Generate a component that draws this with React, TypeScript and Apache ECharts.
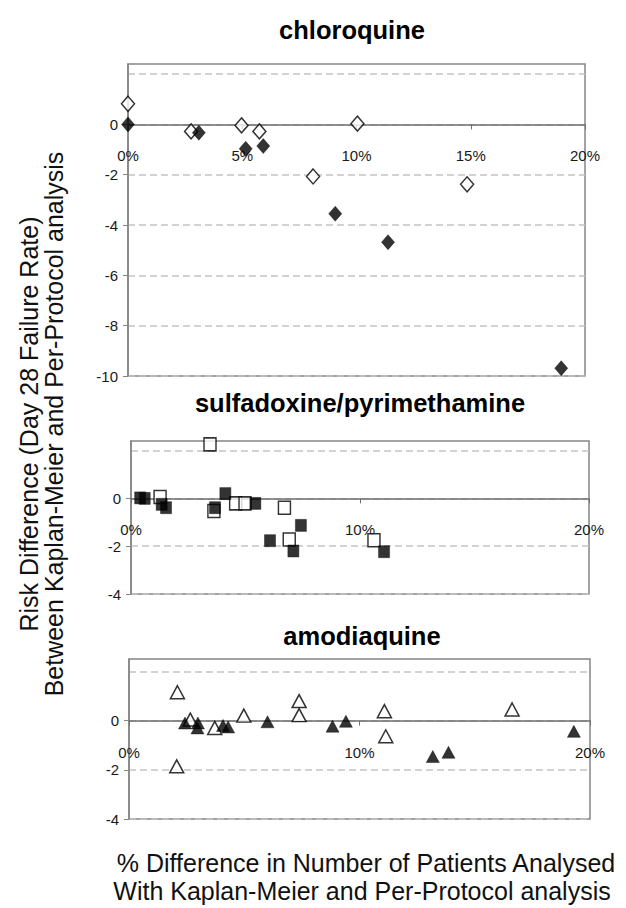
import React, { useEffect, useRef } from "react";
import * as echarts from "echarts";

// ---- data: [% difference in patients analysed, risk difference] ----
const chloroquineOpen = [
  [0, 0.82], [2.76, -0.28], [4.97, -0.04], [5.75, -0.28], [8.1, -2.07], [10.04, 0.03], [14.84, -2.38],
];
const chloroquineFilled = [
  [0, 0], [3.1, -0.33], [5.15, -0.97], [5.92, -0.86], [9.07, -3.55], [11.38, -4.68], [18.96, -9.69],
];
const spOpen = [
  [1.27, 0.06], [3.45, 2.26], [3.62, -0.53], [4.57, -0.21], [4.98, -0.21], [6.7, -0.39], [6.91, -1.72], [10.61, -1.75],
];
const spFilled = [
  [0.4, 0.02], [0.6, 0.0], [1.34, -0.25], [1.53, -0.39], [3.67, -0.39], [4.12, 0.2], [5.43, -0.21],
  [6.07, -1.77], [7.09, -2.2], [7.42, -1.13], [11.05, -2.23],
];
const amodiaquineOpen = [
  [2.1, 1.15], [2.07, -1.86], [2.66, 0.04], [3.72, -0.3], [4.98, 0.2], [7.38, 0.79], [7.38, 0.22],
  [11.08, 0.38], [11.14, -0.64], [16.62, 0.45],
];
const amodiaquineFilled = [
  [2.43, -0.1], [2.99, -0.1], [2.97, -0.3], [4.08, -0.2], [4.3, -0.26], [6.01, -0.05], [8.83, -0.23],
  [9.41, -0.03], [13.18, -1.46], [13.86, -1.29], [19.3, -0.44],
];

const panelTitles = ["chloroquine", "sulfadoxine/pyrimethamine", "amodiaquine"];
const yTitleLines = ["Risk Difference (Day 28 Failure Rate)", "Between Kaplan-Meier and Per-Protocol analysis"];
const xTitleLines = ["% Difference in Number of Patients Analysed", "With Kaplan-Meier and Per-Protocol analysis"];
const yTicks1 = [-10, -8, -6, -4, -2, 0, 2];
const yTicks23 = [-4, -2, 0, 2];
const yRanges = [
  [-10, 2.4],
  [-4, 2.4],
  [-4, 2.5],
];
const xIntervals = [5, 10, 10];

const FONT = '"Liberation Sans", Arial, Helvetica, sans-serif';

export default function App() {
  const ref = useRef<HTMLDivElement>(null);
  useEffect(() => {
    if (!ref.current) return;
    const chart = echarts.init(ref.current, undefined, { renderer: "svg" });

    const gridBoxes = [
      { left: 128, top: 64, width: 457, height: 312 },
      { left: 131, top: 441, width: 458, height: 153 },
      { left: 129, top: 659, width: 461, height: 160 },
    ];
    const grids = gridBoxes.map((g) => ({
      ...g,
      show: true,
      borderColor: "#858585",
      borderWidth: 1.5,
      backgroundColor: "transparent",
    }));

    // x axis sits at y = 0 (line, ticks and labels), placed via offset from the bottom
    const xAxisBase = (i: number) => {
      const [mn, mx] = yRanges[i];
      const zeroOffset = -((0 - mn) / (mx - mn)) * gridBoxes[i].height;
      return {
        type: "value",
        gridIndex: i,
        min: 0,
        max: 20,
        interval: xIntervals[i],
        position: "bottom",
        offset: zeroOffset,
        z: 5,
        axisLine: { show: true, onZero: false, lineStyle: { color: "#6e6e6e", width: 1.5 } },
        axisTick: { show: true, length: 5, lineStyle: { color: "#6e6e6e", width: 1 } },
        axisLabel: {
          margin: 24,
          fontSize: 15,
          fontFamily: FONT,
          color: "#1a1a1a",
          formatter: (v: number) => v + "%",
        },
        splitLine: { show: false },
      };
    };

    const yAxisBase = (i: number, ticks: number[]) => ({
      type: "value",
      gridIndex: i,
      min: yRanges[i][0],
      max: yRanges[i][1],
      interval: 2,
      axisLine: { show: true, onZero: false, lineStyle: { color: "#858585", width: 1.5 } },
      axisTick: { show: true, length: 5, customValues: ticks, lineStyle: { color: "#858585" } },
      axisLabel: {
        margin: 10,
        fontSize: 15,
        fontFamily: FONT,
        color: "#1a1a1a",
        customValues: ticks,
        showMaxLabel: false,
      },
      splitLine: { show: true, lineStyle: { color: "#c4c4c4", width: 1.5, type: [7, 4] } },
    });

    const openStyle = { color: "#ffffff", borderColor: "#000000", borderWidth: 1.5 };
    const filledStyle = { color: "#000000", borderColor: "#000000", borderWidth: 0.5 };

    const mk = (i: number, data: number[][], symbol: string, size: number | number[], style: any) => ({
      type: "scatter",
      xAxisIndex: i,
      yAxisIndex: i,
      data,
      symbol,
      symbolSize: size,
      itemStyle: style,
      clip: false,
      z: 10,
    });

    const titleY = [30, 403, 636];
    const titleX = [352, 360, 362];

    const graphic: any[] = [];
    panelTitles.forEach((t, i) => {
      graphic.push({
        type: "text",
        x: titleX[i],
        y: titleY[i],
        style: {
          text: t,
          fontSize: 25.5,
          fontWeight: "bold",
          fontFamily: FONT,
          fill: "#000",
          align: "center",
          verticalAlign: "middle",
        },
      });
    });
    const yTitleX = [29, 54];
    yTitleLines.forEach((t, i) => {
      graphic.push({
        type: "text",
        x: yTitleX[i],
        y: 424,
        rotation: Math.PI / 2,
        style: {
          text: t,
          fontSize: 25,
          fontFamily: FONT,
          fill: "#111",
          align: "center",
          verticalAlign: "middle",
        },
      });
    });
    const xTitleY = [863, 891];
    const xTitleX = [366, 362];
    xTitleLines.forEach((t, i) => {
      graphic.push({
        type: "text",
        x: xTitleX[i],
        y: xTitleY[i],
        style: {
          text: t,
          fontSize: 25,
          fontFamily: FONT,
          fill: "#111",
          align: "center",
          verticalAlign: "middle",
        },
      });
    });

    chart.setOption({
      animation: false,
      backgroundColor: "#ffffff",
      grid: grids,
      xAxis: [xAxisBase(0), xAxisBase(1), xAxisBase(2)],
      yAxis: [yAxisBase(0, yTicks1), yAxisBase(1, yTicks23), yAxisBase(2, yTicks23)],
      series: [
        mk(0, chloroquineOpen, "diamond", [13, 15], openStyle),
        mk(0, chloroquineFilled, "diamond", [13, 15], filledStyle),
        mk(1, spOpen, "rect", [12, 13], openStyle),
        mk(1, spFilled, "rect", [11, 12], filledStyle),
        mk(2, amodiaquineOpen, "triangle", [14, 13], openStyle),
        mk(2, amodiaquineFilled, "triangle", [13, 12], filledStyle),
      ],
      graphic,
    });
    return () => chart.dispose();
  }, []);
  return <div ref={ref} style={{ position: "absolute", left: 0, top: 0, width: 626, height: 908 }} />;
}
